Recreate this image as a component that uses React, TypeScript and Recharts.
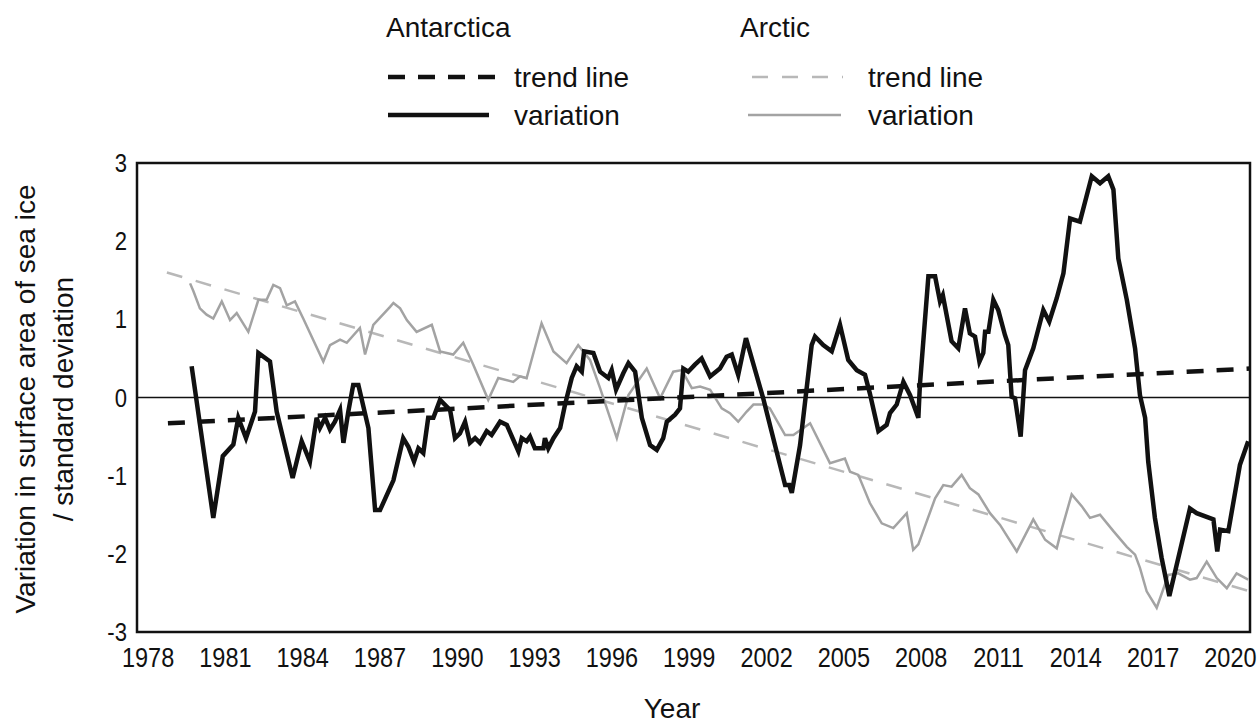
import { LineChart, Line, XAxis, YAxis, ReferenceLine, ReferenceArea } from "recharts";

const FONT = "'Liberation Sans', Arial, sans-serif";

// x axis runs a little past 1978 on the left and 2020 on the right
const X_MIN = 1977.57;
const X_MAX = 2020.76;
const YEAR_TICKS = [1978, 1981, 1984, 1987, 1990, 1993, 1996, 1999, 2002, 2005, 2008, 2011, 2014, 2017, 2020];
const VALUE_TICKS = [-3, -2, -1, 0, 1, 2, 3];

// Antarctica variation
const ANT_YEARS = [
  1979.69, 1980.53, 1980.9, 1981.31, 1981.5, 1981.8, 1982.15, 1982.28, 1982.73, 1982.99,
  1983.61, 1983.96, 1984.28, 1984.54, 1984.67, 1984.87, 1985.06, 1985.25, 1985.45, 1985.58,
  1985.77, 1985.96, 1986.16, 1986.55, 1986.81, 1987.0, 1987.52, 1987.9, 1988.1, 1988.32,
  1988.49, 1988.68, 1988.87, 1989.07, 1989.33, 1989.72, 1989.91, 1990.1, 1990.3, 1990.49,
  1990.69, 1990.88, 1991.14, 1991.33, 1991.66, 1991.92, 1992.37, 1992.5, 1992.69, 1992.82,
  1993.01, 1993.34, 1993.4, 1993.53, 1993.73, 1993.99, 1994.18, 1994.44, 1994.63, 1994.83,
  1994.92, 1995.28, 1995.54, 1995.86, 1995.99, 1996.16, 1996.44, 1996.64, 1996.9, 1997.16,
  1997.48, 1997.74, 1997.99, 1998.13, 1998.45, 1998.64, 1998.77, 1998.96, 1999.22, 1999.48,
  1999.81, 2000.19, 2000.45, 2000.65, 2000.9, 2001.2, 2001.87, 2002.39, 2002.72, 2002.88,
  2002.98, 2003.3, 2003.75, 2003.88, 2004.2, 2004.53, 2004.85, 2005.17, 2005.5, 2005.82,
  2006.01, 2006.34, 2006.66, 2006.79, 2007.05, 2007.31, 2007.57, 2007.89, 2007.95, 2008.28,
  2008.54, 2008.73, 2008.84, 2009.18, 2009.44, 2009.7, 2009.89, 2010.09, 2010.26, 2010.41,
  2010.48, 2010.61, 2010.8, 2010.99, 2011.25, 2011.38, 2011.51, 2011.64, 2011.86, 2012.03,
  2012.35, 2012.74, 2012.97, 2013.26, 2013.52, 2013.78, 2014.16, 2014.62, 2014.94, 2015.26,
  2015.46, 2015.65, 2015.98, 2016.3, 2016.49, 2016.69, 2016.81, 2017.07, 2017.33, 2017.63,
  2018.43, 2018.69, 2019.34, 2019.49, 2019.6, 2019.92, 2020.37, 2020.69,
];
const ANT_VALUES = [
  0.4, -1.54, -0.75, -0.6, -0.26, -0.52, -0.18, 0.57, 0.46, -0.18,
  -1.03, -0.56, -0.82, -0.26, -0.39, -0.26, -0.41, -0.31, -0.16, -0.58,
  -0.18, 0.16, 0.16, -0.39, -1.44, -1.44, -1.06, -0.52, -0.63, -0.82,
  -0.65, -0.71, -0.26, -0.26, -0.03, -0.16, -0.52, -0.46, -0.31, -0.58,
  -0.52, -0.58, -0.43, -0.48, -0.31, -0.35, -0.69, -0.52, -0.56, -0.5,
  -0.65, -0.65, -0.52, -0.65, -0.52, -0.39, -0.09, 0.25, 0.4, 0.33,
  0.59, 0.57, 0.33, 0.25, 0.35, 0.1, 0.31, 0.44, 0.33, -0.26,
  -0.61, -0.67, -0.52, -0.31, -0.22, -0.14, 0.37, 0.33, 0.42, 0.5,
  0.27, 0.37, 0.52, 0.55, 0.29, 0.76, -0.01, -0.69, -1.12, -1.12,
  -1.22, -0.61, 0.67, 0.78, 0.67, 0.59, 0.93, 0.48, 0.35, 0.29,
  0.05, -0.43, -0.35, -0.2, -0.09, 0.2, 0.03, -0.26, 0.16, 1.55,
  1.55, 1.23, 1.31, 0.72, 0.63, 1.14, 0.82, 0.78, 0.46, 0.57,
  0.84, 0.84, 1.25, 1.12, 0.8, 0.67, 0.01, -0.01, -0.5, 0.35,
  0.63, 1.12, 0.97, 1.27, 1.59, 2.29, 2.25, 2.83, 2.74, 2.83,
  2.66, 1.78, 1.25, 0.63, 0.03, -0.26, -0.82, -1.54, -2.05, -2.54,
  -1.42, -1.48, -1.56, -1.97, -1.69, -1.71, -0.86, -0.56,
];

// Arctic variation
const ARC_YEARS = [
  1979.63, 1979.76, 1980.01, 1980.27, 1980.53, 1980.86, 1981.18, 1981.44, 1981.89, 1982.28,
  1982.6, 1982.86, 1983.12, 1983.38, 1983.7, 1984.02, 1984.8, 1985.06, 1985.45, 1985.71,
  1986.22, 1986.42, 1986.74, 1987.39, 1987.52, 1987.78, 1988.04, 1988.42, 1989.01, 1989.33,
  1989.84, 1990.23, 1990.62, 1991.2, 1991.59, 1992.17, 1992.43, 1992.69, 1993.27, 1993.73,
  1994.24, 1994.69, 1995.15, 1995.54, 1996.19, 1996.64, 1997.35, 1997.87, 1998.38, 1998.71,
  1999.1, 1999.42, 1999.81, 2000.26, 2000.58, 2000.9, 2001.23, 2001.49, 2001.87, 2002.13,
  2002.72, 2003.04, 2003.69, 2004.46, 2005.04, 2005.24, 2005.56, 2006.01, 2006.47, 2006.92,
  2007.44, 2007.69, 2007.89, 2008.54, 2008.86, 2009.18, 2009.57, 2009.89, 2010.22, 2010.67,
  2011.06, 2011.71, 2012.35, 2012.81, 2013.26, 2013.39, 2013.84, 2014.23, 2014.55, 2014.94,
  2015.46, 2015.98, 2016.3, 2016.49, 2016.75, 2017.14, 2017.59, 2017.98, 2018.43, 2018.69,
  2019.08, 2019.47, 2019.86, 2020.24, 2020.69,
];
const ARC_VALUES = [
  1.46, 1.36, 1.14, 1.06, 1.01, 1.23, 0.99, 1.08, 0.84, 1.25,
  1.25, 1.44, 1.4, 1.18, 1.23, 1.01, 0.46, 0.67, 0.74, 0.7,
  0.89, 0.55, 0.93, 1.16, 1.21, 1.14, 0.99, 0.84, 0.93, 0.59,
  0.55, 0.7, 0.42, -0.03, 0.25, 0.2, 0.27, 0.25, 0.95, 0.59,
  0.44, 0.67, 0.48, 0.12, -0.52, 0.03, 0.37, -0.01, 0.33, 0.35,
  0.12, 0.14, 0.1, -0.14, -0.2, -0.31, -0.18, -0.09, -0.09, -0.14,
  -0.48, -0.48, -0.33, -0.84, -0.78, -0.95, -0.99, -1.35, -1.61, -1.67,
  -1.48, -1.95, -1.88, -1.29, -1.12, -1.14, -0.99, -1.16, -1.24, -1.48,
  -1.63, -1.97, -1.56, -1.82, -1.93, -1.76, -1.24, -1.39, -1.54, -1.5,
  -1.71, -1.91, -2.01, -2.18, -2.48, -2.69, -2.27, -2.25, -2.33, -2.31,
  -2.1, -2.31, -2.44, -2.25, -2.33,
];

// trend lines (start and end)
const ANT_TREND_YEARS = [1978.77, 2020.76];
const ANT_TREND_VALUES = [-0.33, 0.37];
const ARC_TREND_YEARS = [1978.73, 2020.76];
const ARC_TREND_VALUES = [1.6, -2.48];

function toPoints(years: number[], values: number[]) {
  return years.map((year, i) => ({ year, v: values[i] }));
}

const antVar = toPoints(ANT_YEARS, ANT_VALUES);
const arcVar = toPoints(ARC_YEARS, ARC_VALUES);
const antTrend = toPoints(ANT_TREND_YEARS, ANT_TREND_VALUES);
const arcTrend = toPoints(ARC_TREND_YEARS, ARC_TREND_VALUES);

const BLACK = "#111";
const GREY = "#a3a3a3";
const GREY_TREND = "#b8b8b8";

function YearTick({ x, payload }: any) {
  return (
    <text
      transform={`translate(${x},667) scale(0.84,1)`}
      textAnchor="middle"
      fontSize={28}
      fontFamily={FONT}
      fill={BLACK}
    >
      {payload.value}
    </text>
  );
}

function ValueTick({ y, payload }: any) {
  return (
    <text
      transform={`translate(127,${y + 9}) scale(0.85,1)`}
      textAnchor="end"
      fontSize={26}
      fontFamily={FONT}
      fill={BLACK}
    >
      {payload.value}
    </text>
  );
}

function Overlay() {
  const txt = { fontSize: 28, fontFamily: FONT, fill: BLACK };
  return (
    <svg
      width={1258}
      height={725}
      style={{ position: "absolute", left: 0, top: 0, pointerEvents: "none" }}
    >
      {/* legend */}
      <text x={386} y={37} {...txt}>Antarctica</text>
      <line x1={388} y1={77} x2={495} y2={77} stroke={BLACK} strokeWidth={4.5} strokeDasharray="17 13" />
      <text x={514} y={87} {...txt}>trend line</text>
      <line x1={388} y1={115} x2={489} y2={115} stroke={BLACK} strokeWidth={4.5} />
      <text x={514} y={125} {...txt}>variation</text>

      <text x={740} y={37} {...txt}>Arctic</text>
      <line x1={752} y1={77} x2={843} y2={77} stroke={GREY_TREND} strokeWidth={2.5} strokeDasharray="16 14" />
      <text x={868} y={87} {...txt}>trend line</text>
      <line x1={748} y1={115} x2={841} y2={115} stroke={GREY} strokeWidth={2.5} />
      <text x={868} y={125} {...txt}>variation</text>

      {/* axis titles */}
      <text transform="translate(25,399) rotate(-90)" textAnchor="middle" dominantBaseline="central" {...txt}>
        Variation in surface area of sea ice
      </text>
      <text transform="translate(63,399) rotate(-90)" textAnchor="middle" dominantBaseline="central" {...txt}>
        / standard deviation
      </text>
      <text x={672} y={718} textAnchor="middle" {...txt}>Year</text>
    </svg>
  );
}

export default function App() {
  return (
    <div style={{ position: "absolute", left: 0, top: 0, width: 1258, height: 725, background: "#fff" }}>
      <LineChart width={1258} height={725} margin={{ top: 163, right: 8, bottom: 33, left: 0 }}>
        <XAxis
          dataKey="year"
          type="number"
          domain={[X_MIN, X_MAX]}
          ticks={YEAR_TICKS}
          interval={0}
          allowDataOverflow
          axisLine={false}
          tickLine={false}
          height={60}
          tick={YearTick}
        />
        <YAxis
          type="number"
          domain={[-3, 3]}
          ticks={VALUE_TICKS}
          interval={0}
          axisLine={false}
          tickLine={false}
          width={137}
          tick={ValueTick}
        />
        <ReferenceLine y={0} stroke={BLACK} strokeWidth={1.5} />
        <Line
          data={arcTrend}
          dataKey="v"
          stroke={GREY_TREND}
          strokeWidth={2.5}
          strokeDasharray="16 14"
          dot={false}
          activeDot={false}
          isAnimationActive={false}
        />
        <Line
          data={arcVar}
          dataKey="v"
          stroke={GREY}
          strokeWidth={2.5}
          dot={false}
          activeDot={false}
          isAnimationActive={false}
        />
        <Line
          data={antTrend}
          dataKey="v"
          stroke={BLACK}
          strokeWidth={4.5}
          strokeDasharray="17 13"
          dot={false}
          activeDot={false}
          isAnimationActive={false}
        />
        <Line
          data={antVar}
          dataKey="v"
          stroke={BLACK}
          strokeWidth={4.5}
          strokeLinejoin="miter"
          dot={false}
          activeDot={false}
          isAnimationActive={false}
        />
        <ReferenceArea
          x1={X_MIN}
          x2={X_MAX}
          y1={-3}
          y2={3}
          fill="none"
          fillOpacity={0}
          stroke={BLACK}
          strokeWidth={2.5}
        />
      </LineChart>
      <Overlay />
    </div>
  );
}
